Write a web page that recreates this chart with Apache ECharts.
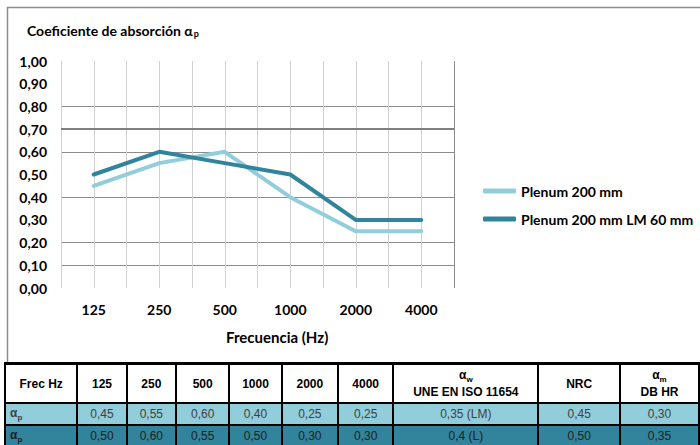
<!DOCTYPE html>
<html>
<head>
<meta charset="utf-8">
<script src="https://cdn.jsdelivr.net/npm/echarts@6/dist/echarts.min.js"></script>
<style>
  body { margin: 0; background: #fff; overflow: hidden; }
  #main { position: absolute; left: 0; top: 0; width: 700px; height: 445px; }
  #tabla {
    position: absolute; left: 4px; top: 362px;
    border-collapse: collapse; table-layout: fixed;
    font-family: "Liberation Sans", Arial, sans-serif; font-size: 12px;
    border-top: 3px solid #000;
  }
  #tabla td { border: 2px solid #000; text-align: center; padding: 0; overflow: hidden; white-space: nowrap; }
  #tabla tr.cab td { height: 37px; font-weight: bold; color: #000; background: #fff; }
  #tabla tr.f1 td { height: 20px; background: #92cddc; color: #404040; }
  #tabla tr.f2 td { height: 20px; background: #31849b; color: #1e1e1e; }
  #tabla td.izq { text-align: left; padding-left: 4px; font-weight: bold; color: #000; }
  #tabla sub { font-size: 8px; }
</style>
</head>
<body>
<div id="main"></div>
<table id="tabla"></table>
<script>
// datos
var frecuencias = ["125", "250", "500", "1000", "2000", "4000"];
var plenum200 = [0.45, 0.55, 0.60, 0.40, 0.25, 0.25];
var plenum200LM60 = [0.50, 0.60, 0.55, 0.50, 0.30, 0.30];
var nombres = ["Plenum 200 mm", "Plenum 200 mm LM 60 mm"];
var extra200 = ["0,35 (LM)", "0,45", "0,30"];
var extraLM60 = ["0,4 (L)", "0,50", "0,35"];

var coma = function (v) { return v.toFixed(2).replace(".", ","); };

// lineas horizontales que se ven en la imagen (0,00 ... 1,00)
var grisH = "#8c8c8c";
var coloresH = ["transparent", grisH, grisH, "transparent", grisH, "transparent",
  grisH, "#7f7f7f", grisH, "transparent", "transparent"];
var coloresV = [];
for (var i = 0; i <= 12; i++) coloresV.push(i === 12 ? "#8c8c8c" : "#d0d0d0");

var fuente = "Lato";
var myChart = echarts.init(document.getElementById("main"), null, { renderer: "svg" });
myChart.setOption({
  animation: false,
  title: {
    text: "{a|Coeficiente de absorción α}{p|p}",
    left: 22,
    top: 17,
    textStyle: {
      rich: {
        a: { fontFamily: fuente, fontWeight: "bold", fontSize: 14, color: "#000" },
        p: { fontFamily: fuente, fontWeight: "bold", fontSize: 9, color: "#000", verticalAlign: "bottom", padding: [7, 0, 0, 1] }
      }
    }
  },
  graphic: [
    {
      type: "rect", silent: true, z: -1,
      shape: { x: 7.5, y: 7.5, width: 720, height: 360 },
      style: { fill: "none", stroke: "#8c8c8c", lineWidth: 1.5 }
    },
    {
      type: "text", left: 226, top: 329,
      style: { text: "Frecuencia (Hz)", font: "bold 15px Lato", fill: "#000" }
    }
  ],
  legend: {
    orient: "vertical",
    left: 478,
    top: 179,
    itemWidth: 33,
    itemHeight: 5,
    itemGap: 14,
    icon: "roundRect",
    textStyle: { fontFamily: fuente, fontWeight: "bold", fontSize: 14, color: "#000" },
    data: nombres
  },
  grid: { left: 61, top: 61, width: 393, height: 227, containLabel: false },
  xAxis: [
    {
      type: "category",
      data: frecuencias,
      boundaryGap: true,
      axisLine: { show: false },
      axisTick: { show: false },
      splitLine: { show: false },
      axisLabel: { margin: 14, fontFamily: fuente, fontWeight: "bold", fontSize: 14, color: "#000" }
    },
    {
      type: "value",
      min: 0, max: 12, interval: 1,
      position: "bottom",
      axisLine: { show: false },
      axisTick: { show: false },
      axisLabel: { show: false },
      splitLine: { show: true, lineStyle: { color: coloresV, width: 1 } }
    }
  ],
  yAxis: {
    type: "value",
    min: 0, max: 1, interval: 0.1,
    axisLine: { show: false },
    axisTick: { show: false },
    axisLabel: {
      margin: 14, fontFamily: fuente, fontWeight: "bold", fontSize: 14, color: "#000",
      formatter: coma
    },
    splitLine: { show: true, lineStyle: { color: coloresH, width: 1 } }
  },
  series: [
    {
      name: nombres[0],
      type: "line",
      data: plenum200,
      symbol: "none",
      color: "#92cddc",
      lineStyle: { width: 4, cap: "round", join: "round" },
      markLine: {
        silent: true, symbol: "none", label: { show: false },
        lineStyle: { color: "#7f7f7f", width: 2, type: "solid" },
        data: [{ yAxis: 0.7 }]
      }
    },
    {
      name: nombres[1],
      type: "line",
      data: plenum200LM60,
      symbol: "none",
      color: "#31849b",
      lineStyle: { width: 4, cap: "round", join: "round" }
    }
  ]
});

// tabla inferior
var anchos = [73, 50, 50, 54, 53, 57, 56, 146, 83, 80];
var html = "<colgroup>";
anchos.forEach(function (w) { html += '<col style="width:' + w + 'px">'; });
html += "</colgroup>";
html += '<tr class="cab"><td>Frec Hz</td>';
frecuencias.forEach(function (f) { html += "<td>" + f + "</td>"; });
html += "<td>α<sub>w</sub><br>UNE EN ISO 11654</td><td>NRC</td><td>α<sub>m</sub><br>DB HR</td></tr>";
html += '<tr class="f1"><td class="izq">α<sub>p</sub></td>';
plenum200.forEach(function (v) { html += "<td>" + coma(v) + "</td>"; });
extra200.forEach(function (v) { html += "<td>" + v + "</td>"; });
html += "</tr>";
html += '<tr class="f2"><td class="izq">α<sub>p</sub></td>';
plenum200LM60.forEach(function (v) { html += "<td>" + coma(v) + "</td>"; });
extraLM60.forEach(function (v) { html += "<td>" + v + "</td>"; });
html += "</tr>";
document.getElementById("tabla").innerHTML = html;
</script>
</body>
</html>
